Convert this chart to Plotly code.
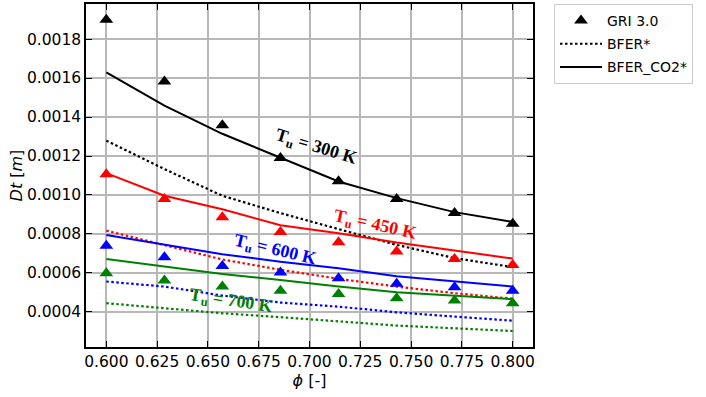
import plotly.graph_objects as go

phi = [0.6, 0.6286, 0.6571, 0.6857, 0.7143, 0.7429, 0.7714, 0.8]

# GRI 3.0 (triangles)
gri_300 = [0.001899, 0.001582, 0.001358, 0.001190, 0.001070, 0.000980, 0.000907, 0.000852]
gri_450 = [0.001107, 0.000980, 0.000886, 0.000810, 0.000758, 0.000710, 0.000672, 0.000641]
gri_600 = [0.000739, 0.000681, 0.000636, 0.000602, 0.000573, 0.000544, 0.000527, 0.000509]
gri_700 = [0.000599, 0.000561, 0.000530, 0.000508, 0.000492, 0.000470, 0.000458, 0.000445]

# BFER* (dotted)
bfer_300 = [0.001279, 0.001133, 0.000996, 0.000907, 0.000825, 0.000744, 0.000676, 0.000630]
bfer_450 = [0.000817, 0.000744, 0.000669, 0.000616, 0.000570, 0.000530, 0.000496, 0.000468]
bfer_600 = [0.000556, 0.000530, 0.000484, 0.000448, 0.000427, 0.000398, 0.000376, 0.000355]
bfer_700 = [0.000445, 0.000419, 0.000393, 0.000373, 0.000350, 0.000330, 0.000316, 0.000302]

# BFER_CO2* (solid)
co2_300 = [0.001629, 0.001458, 0.001314, 0.001190, 0.001069, 0.000984, 0.000912, 0.000862]
co2_450 = [0.001112, 0.000996, 0.000927, 0.000845, 0.000804, 0.000756, 0.000715, 0.000674]
co2_600 = [0.000795, 0.000745, 0.000696, 0.000658, 0.000624, 0.000583, 0.000556, 0.000530]
co2_700 = [0.000671, 0.000633, 0.000595, 0.000564, 0.000530, 0.000501, 0.000484, 0.000465]

colors = ["black", "#ff0000", "#0000ff", "#008000"]
labels = ["T<sub>u</sub> = 300 K", "T<sub>u</sub> = 450 K", "T<sub>u</sub> = 600 K", "T<sub>u</sub> = 700 K"]
label_x = [0.7032, 0.7323, 0.6830, 0.6613]
label_y = [0.001242, 0.000842, 0.000713, 0.000451]
label_angle = [17, 12.5, 13.4, 8.6]

legend_names = ["GRI 3.0", "BFER*", "BFER_CO2*"]

gri = [gri_300, gri_450, gri_600, gri_700]
bfer = [bfer_300, bfer_450, bfer_600, bfer_700]
co2 = [co2_300, co2_450, co2_600, co2_700]

fig = go.Figure()
dotdash = "2.5px,2.5px"
for i, c in enumerate(colors):
    fig.add_trace(go.Scatter(x=phi, y=bfer[i], mode="lines",
                             line=dict(color=c, width=2.2, dash=dotdash), showlegend=False))
    fig.add_trace(go.Scatter(x=phi, y=co2[i], mode="lines",
                             line=dict(color=c, width=2), showlegend=False))
    fig.add_trace(go.Scatter(x=phi, y=gri[i], mode="markers",
                             marker=dict(symbol="triangle-up", size=12, color=c), showlegend=False))

# legend entries
fig.add_trace(go.Scatter(x=[None], y=[None], mode="markers", name=legend_names[0], legendgroup="a",
                         marker=dict(symbol="triangle-up", size=12, color="black")))
fig.add_trace(go.Scatter(x=[None], y=[None], mode="lines", name=legend_names[1], legendgroup="b",
                         line=dict(color="black", width=2, dash=dotdash)))
fig.add_trace(go.Scatter(x=[None], y=[None], mode="lines", name=legend_names[2], legendgroup="c",
                         line=dict(color="black", width=2)))

for i in range(4):
    fig.add_annotation(x=label_x[i], y=label_y[i], text="<b>" + labels[i] + "</b>", showarrow=False,
                       textangle=label_angle[i],
                       font=dict(family="Liberation Serif", size=18, color=colors[i]))

axis_common = dict(showline=True, linecolor="black", linewidth=1.5, mirror="ticks",
                   ticks="inside", ticklen=6, tickwidth=1.3, tickcolor="black",
                   showgrid=True, gridcolor="#b8b8b8", gridwidth=1.5, zeroline=False,
                   automargin=False,
                   tickfont=dict(family="DejaVu Sans", size=15.5, color="black"))

fig.update_xaxes(range=[0.59, 0.81], tickvals=[0.6, 0.625, 0.65, 0.675, 0.7, 0.725, 0.75, 0.775, 0.8],
                 ticktext=["0.600", "0.625", "0.650", "0.675", "0.700", "0.725", "0.750", "0.775", "0.800"],
                 title=dict(text="<i>ϕ</i> [-]", font=dict(family="DejaVu Sans", size=16, color="black"), standoff=4),
                 **axis_common)
fig.update_yaxes(range=[0.00022, 0.00198],
                 tickvals=[0.0004, 0.0006, 0.0008, 0.0010, 0.0012, 0.0014, 0.0016, 0.0018],
                 ticktext=["0.0004", "0.0006", "0.0008", "0.0010", "0.0012", "0.0014", "0.0016", "0.0018"],
                 title=dict(text="<i>Dt</i> [<i>m</i>]", font=dict(family="DejaVu Sans", size=16, color="black"), standoff=0),
                 **axis_common)

fig.update_layout(
    width=706, height=397,
    margin=dict(l=86, r=173, t=4, b=50),
    plot_bgcolor="white", paper_bgcolor="white",
    legend=dict(x=1.047, y=1.0, xanchor="left", yanchor="top",
                bordercolor="#cccccc", borderwidth=1, bgcolor="white",
                tracegroupgap=2, itemwidth=42,
                font=dict(family="DejaVu Sans", size=14, color="black")),
)

fig.write_html("out.html", config={"displayModeBar": False},
               post_script="document.body.style.margin='0';document.body.style.padding='0';document.body.style.overflow='hidden';")
